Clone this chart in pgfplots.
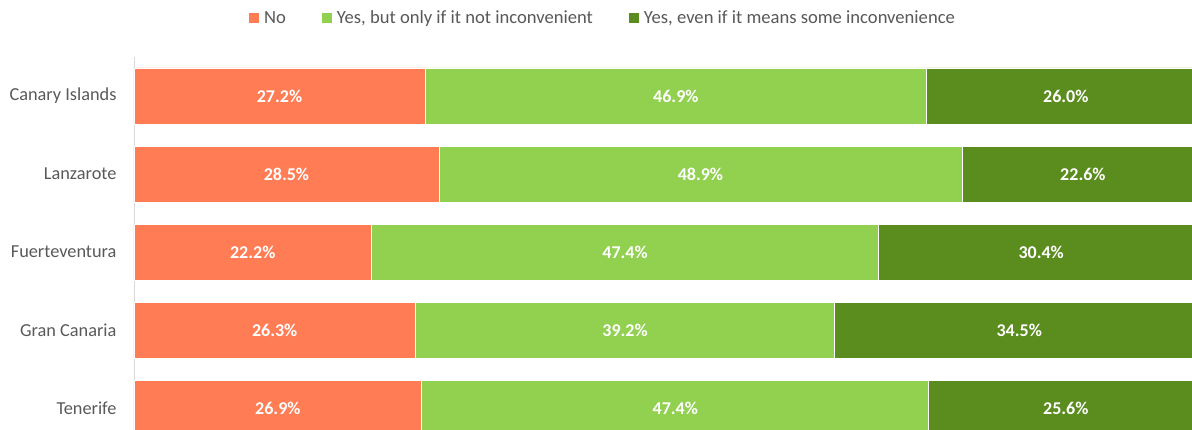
\documentclass[border=0pt]{standalone}
\usepackage{pgfplots}
\pgfplotsset{compat=1.18}
\usepackage{pgfplotstable}
\usepackage{fontspec}
\setmainfont{Carlito}

\definecolor{noC}{HTML}{FF7C55}
\definecolor{yesA}{HTML}{92D050}
\definecolor{yesB}{HTML}{5B8C1E}
\definecolor{txt}{HTML}{595959}
\definecolor{axl}{HTML}{D9D9D9}

\pgfplotstableread{
y no yesa yesb
0 26.9 47.4 25.6
1 26.3 39.2 34.5
2 22.2 47.4 30.4
3 28.5 48.9 22.6
4 27.2 46.9 26.0
}\data
% middle of each segment, for the value labels
\pgfplotstablecreatecol[expr={\thisrow{no}/2}]{mno}{\data}
\pgfplotstablecreatecol[expr={\thisrow{no}+\thisrow{yesa}/2}]{ma}{\data}
\pgfplotstablecreatecol[expr={\thisrow{no}+\thisrow{yesa}+\thisrow{yesb}/2}]{mb}{\data}

\pgfplotsset{
  frame/.style={
    at={(0,0)}, anchor=south west,
    scale only axis,
    width=1058pt,
    height=373pt,
    xmin=0, xmax=98.9,
    ymin=-0.282, ymax=4.5,
  },
}

\begin{document}
\begin{tikzpicture}
\begin{axis}[
frame,
xbar stacked,
bar width=56pt,
axis x line=none,
axis y line*=left,
y axis line style={draw=axl, line width=0.8pt, -},
ytick={0,...,4},
yticklabels={Tenerife,Gran Canaria,Fuerteventura,Lanzarote,Canary Islands},
major tick length=0pt,
yticklabel style={font=\fontsize{18.3}{21}\selectfont, text=txt, xshift=-14pt},
legend columns=3,
legend style={at={(rel axis cs:0.4433,1.105)}, anchor=center, draw=none,
  font=\fontsize{18.6}{21}\selectfont, text=txt,
  /tikz/every odd column/.append style={column sep=3pt},
  /tikz/every even column/.append style={column sep=34pt}},
legend image code/.code={\fill[#1,draw=none] (0pt,-5pt) rectangle (10pt,5pt);},
]
\addplot[fill=noC, draw=white, line width=0.75pt] table[x=no, y=y] {\data};
\addlegendentry{No}
\addplot[fill=yesA, draw=white, line width=0.75pt] table[x=yesa, y=y] {\data};
\addlegendentry{Yes, but only if it not inconvenient}
\addplot[fill=yesB, draw=white, line width=0.75pt] table[x=yesb, y=y] {\data};
\addlegendentry{Yes, even if it means some inconvenience}
\coordinate (sw) at (rel axis cs:0,0);
\coordinate (ne) at (rel axis cs:1,1);
\end{axis}
\begin{axis}[
frame,
hide axis,
/pgf/number format/assume math mode=true,
nodes near coords={\pgfmathprintnumber[fixed,fixed zerofill,precision=1]{\pgfplotspointmeta}\%},
every node near coord/.append style={anchor=center,
  font=\bfseries\fontsize{18}{21}\selectfont, text=white},
]
\addplot[draw=none, mark=none, point meta=explicit] table[x=mno, y=y, meta=no] {\data};
\addplot[draw=none, mark=none, point meta=explicit] table[x=ma, y=y, meta=yesa] {\data};
\addplot[draw=none, mark=none, point meta=explicit] table[x=mb, y=y, meta=yesb] {\data};
\end{axis}
\pgfresetboundingbox
\path[use as bounding box] ([xshift=-134pt]sw) rectangle ([yshift=57pt]ne);
\end{tikzpicture}
\end{document}
